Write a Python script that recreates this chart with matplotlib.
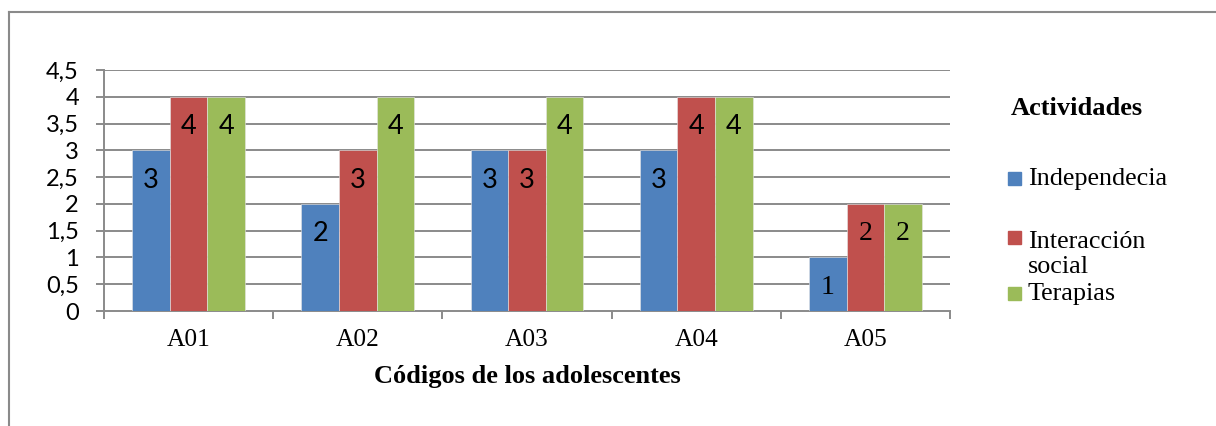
import matplotlib
matplotlib.use("Agg")
import matplotlib.pyplot as plt
from matplotlib.lines import Line2D
from matplotlib.patches import Rectangle
import numpy as np

# --- data -------------------------------------------------------------
codes = ["A01", "A02", "A03", "A04", "A05"]
series_names = ["Independecia", "Interacción\nsocial", "Terapias"]
independencia = [3, 2, 3, 3, 1]
interaccion = [4, 3, 3, 4, 2]
terapias = [4, 4, 4, 4, 2]
y_ticks = [0, 0.5, 1, 1.5, 2, 2.5, 3, 3.5, 4, 4.5]
y_tick_labels = ["0", "0,5", "1", "1,5", "2", "2,5", "3", "3,5", "4", "4,5"]

# --- styling ------------------------------------------------------------
colors = ["#4F81BD", "#C0504D", "#9BBB59"]
grid_color = "#8A8A8A"
SANS = "Lato"
SERIF = "Liberation Serif"
# value labels of the last group are set in the serif face
label_fonts = [SANS, SANS, SANS, SANS, SERIF]

W, H = 1216, 426
fig = plt.figure(figsize=(W / 100, H / 100), dpi=100)

def fx(px):
    return px / W

def fy(py):
    return 1 - py / H

# outer chart frame (only top and left edges fall inside the canvas)
fig.add_artist(Line2D([fx(9), 1.0], [fy(12), fy(12)], color=grid_color, lw=1.5))
fig.add_artist(Line2D([fx(9), fx(9)], [fy(12), 0.0], color=grid_color, lw=1.5))

ax = fig.add_axes([fx(104), fy(311), fx(950) - fx(104), fy(70) - fy(311)])

series = [independencia, interaccion, terapias]
n_cat = len(codes)
group = 2 / 3
bw = group / 3
centers = np.arange(n_cat) + 0.5

for k, (vals, col) in enumerate(zip(series, colors)):
    xs = centers + (k - 1) * bw
    bars = ax.bar(xs, vals, width=bw, color=col, edgecolor="#E6E6E6",
                  linewidth=0.4, zorder=3)
    for i, (b, v) in enumerate(zip(bars, vals)):
        fam = label_fonts[i]
        ax.annotate(f"{v}", xy=(b.get_x() + b.get_width() / 2, v),
                    xytext=(0, -30), textcoords="offset pixels",
                    ha="center", va="center", zorder=4,
                    family=fam, fontsize=19.5 if fam == SANS else 20,
                    color="black")

ax.set_xlim(0, n_cat)
ax.set_ylim(0, 4.5)

# horizontal gridlines
ax.set_yticks(y_ticks)
ax.set_yticklabels(y_tick_labels, family=SANS, fontsize=17)
for t in y_ticks[1:]:
    ax.axhline(t, color=grid_color, lw=1.4, zorder=1)

# category boundaries carry the tick marks, labels sit at the centers
ax.set_xticks(np.arange(n_cat + 1))
ax.set_xticklabels([""] * (n_cat + 1))
ax.set_xticks(centers, minor=True)
ax.set_xticklabels(codes, minor=True, family=SERIF, fontsize=18.3)
ax.tick_params(axis="x", which="minor", length=0, pad=13)
ax.tick_params(axis="x", which="major", length=6, width=1.4,
               color=grid_color, direction="out")
ax.tick_params(axis="y", length=6, width=1.4, color=grid_color,
               direction="out", pad=12)

for s in ("top", "right"):
    ax.spines[s].set_visible(False)
for s in ("left", "bottom"):
    ax.spines[s].set_color(grid_color)
    ax.spines[s].set_linewidth(1.4)
ax.set_axisbelow(True)

ax.set_xlabel("Códigos de los adolescentes", family=SERIF, fontsize=19,
              fontweight="bold", labelpad=10)

# legend
fig.text(fx(1011), fy(115), "Actividades", family=SERIF, fontsize=19,
         fontweight="bold", va="baseline", ha="left")
# square centre and baseline of the last text line for each entry
legend_rows = [(178, 185), (237, 273), (293, 300)]
for name, col, (sq, base) in zip(series_names, colors, legend_rows):
    fig.add_artist(Rectangle((fx(1008), fy(sq + 6.5)), fx(13), 13 / H,
                             transform=fig.transFigure, color=col))
    fig.text(fx(1028), fy(base), name, family=SERIF, fontsize=18.8,
             va="baseline", ha="left", linespacing=1.2)

fig.savefig("out.png", dpi=100)
